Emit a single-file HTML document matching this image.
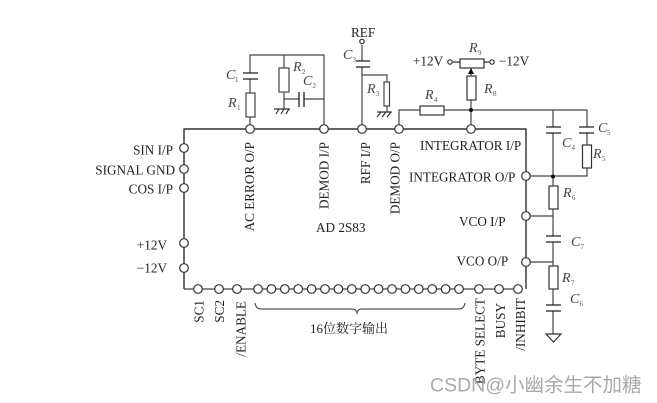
<!DOCTYPE html>
<html><head><meta charset="utf-8">
<style>
html,body{margin:0;padding:0;background:#fff;width:657px;height:403px;overflow:hidden}
svg{display:block}
text{font-family:"Liberation Serif","Noto Serif CJK SC",serif;font-size:13.2px;fill:#222}
.i{font-style:italic;font-size:14px;fill:#444}
.s{font-size:7px;fill:#555}
</style></head><body>
<svg width="657" height="403" viewBox="0 0 657 403" xmlns="http://www.w3.org/2000/svg">
<defs><filter id="b" x="0" y="0" width="100%" height="100%"><feGaussianBlur stdDeviation="0.3"/></filter></defs>
<g filter="url(#b)">
<g fill="none" stroke="#333" stroke-width="1.2">
<!-- chip outline -->
<path d="M184 289V129H526V289" stroke="#111"/>
<path d="M184 289H518" stroke="#444"/>
<!-- AC error network -->
<path d="M250 129V117M250 93V79M250 73V55H324V129M284 55V68M284 92V109M284 99H299M304 99H324" stroke="#444"/>
<path d="M243 73H258M243 79H258M299 92V107M304 92V107" stroke="#222" stroke-width="1.3"/>
<rect x="246" y="93" width="9" height="24" fill="#fff" stroke="#444"/>
<rect x="279" y="68" width="10" height="24" fill="#fff" stroke="#444"/>
<path d="M274 109H290M276 114L279 109M281 114L284 109M286 114L289 109"/>
<!-- REF -->
<path d="M362 45V61M362 67V129M362 75H387V82M387 106V112" stroke="#444"/>
<path d="M356 61H370M356 67H370" stroke="#222" stroke-width="1.3"/>
<rect x="384" y="82" width="5.500" height="24" fill="#fff" stroke="#444"/>
<path d="M377 112H392M377 117L381 112M382 117L386 112M387 117L391 112"/>
<!-- R4 etc -->
<path d="M399 129V110H587V127M471 129V100M471 76V69M553 110V127M553 133V186M553 209V236M553 242V266M553 289V305M553 311V334M587 133V145M587 168V176H526M526 216H553M526 262H553" stroke="#444"/>
<path d="M546 127H561M546 133H561M579 127H594M579 133H594M546 236H561M546 242H561M546 305H561M546 311H561" stroke="#222" stroke-width="1.3"/>
<rect x="420" y="106" width="24" height="9" fill="#fff"/>
<rect x="467" y="76" width="9" height="24" fill="#fff"/>
<rect x="582.500" y="145" width="9" height="23" fill="#fff"/>
<rect x="549" y="186" width="9" height="23" fill="#fff"/>
<rect x="549" y="266" width="9" height="23" fill="#fff"/>
<rect x="460" y="59" width="24" height="9" fill="#fff"/>
<path d="M453 62H460M484 62H489"/>
<path d="M546 334H561L553.500 342Z" fill="#fff"/>
<!-- brace -->
<path d="M255 303C256 308 258 309 262 309H352C355 309 356 310 357 313C358 310 359 309 362 309H458C462 309 464 308 465 303" stroke="#555"/>
</g>
<path d="M471 68L468 74H474Z" fill="#111"/>
<circle cx="471" cy="110" r="2" fill="#111"/>
<circle cx="553" cy="176.500" r="2" fill="#111"/>
<g fill="#fff" stroke="#333" stroke-width="1.2">
<circle cx="250" cy="129" r="4.300"/><circle cx="324" cy="129" r="4.300"/><circle cx="362" cy="129" r="4.300"/><circle cx="399" cy="129" r="4.300"/><circle cx="471" cy="129" r="4.300"/>
<circle cx="184" cy="148" r="4.300"/><circle cx="184" cy="169" r="4.300"/><circle cx="184" cy="188" r="4.300"/><circle cx="184" cy="243" r="4.300"/><circle cx="184" cy="268" r="4.300"/>
<circle cx="526" cy="176" r="4.300"/><circle cx="526" cy="216" r="4.300"/><circle cx="526" cy="262" r="4.300"/>
<circle cx="198" cy="289" r="4.300"/><circle cx="219" cy="289" r="4.300"/><circle cx="237" cy="289" r="4.300"/>
<circle cx="258" cy="289" r="4.300"/><circle cx="271.400" cy="289" r="4.300"/><circle cx="284.800" cy="289" r="4.300"/><circle cx="298.200" cy="289" r="4.300"/><circle cx="311.600" cy="289" r="4.300"/><circle cx="325" cy="289" r="4.300"/><circle cx="338.400" cy="289" r="4.300"/><circle cx="351.800" cy="289" r="4.300"/><circle cx="365.200" cy="289" r="4.300"/><circle cx="378.600" cy="289" r="4.300"/><circle cx="392" cy="289" r="4.300"/><circle cx="405.400" cy="289" r="4.300"/><circle cx="418.800" cy="289" r="4.300"/><circle cx="432.200" cy="289" r="4.300"/><circle cx="445.600" cy="289" r="4.300"/><circle cx="459" cy="289" r="4.300"/>
<circle cx="479" cy="289" r="4.300"/><circle cx="499" cy="289" r="4.300"/><circle cx="518" cy="289" r="4.300"/>
<circle cx="362" cy="41.500" r="2.200"/><circle cx="450" cy="62" r="2.200"/><circle cx="492" cy="62" r="2.200"/>
</g>
<!-- left labels -->
<text x="173" y="154.500" text-anchor="end">SIN I/P</text>
<text x="175" y="174.500" text-anchor="end">SIGNAL GND</text>
<text x="173" y="193.500" text-anchor="end">COS I/P</text>
<text x="167" y="249.500" text-anchor="end">+12V</text>
<text x="167" y="272.500" text-anchor="end">−12V</text>
<!-- rotated top labels -->
<text transform="translate(254 142) rotate(-90)" text-anchor="end">AC ERROR O/P</text>
<text transform="translate(328.500 142) rotate(-90)" text-anchor="end">DEMOD I/P</text>
<text transform="translate(370 142) rotate(-90)" text-anchor="end">RFF I/P</text>
<text transform="translate(399.500 142) rotate(-90)" text-anchor="end">DEMOD O/P</text>
<text x="420" y="150">INTEGRATOR I/P</text>
<text x="409" y="181.500">INTEGRATOR O/P</text>
<text x="459" y="226">VCO I/P</text>
<text x="456.500" y="265.500">VCO O/P</text>
<text x="316" y="232">AD 2S83</text>
<text x="310" y="333" style="font-size:13px">16位数字输出</text>
<!-- rotated bottom labels -->
<text transform="translate(203.500 300) rotate(-90)" text-anchor="end">SC1</text>
<text transform="translate(224 300) rotate(-90)" text-anchor="end">SC2</text>
<text transform="translate(245.500 301) rotate(-90)" text-anchor="end">/ENABLE</text>
<text transform="translate(484.500 298) rotate(-90)" text-anchor="end">BYTE SELECT</text>
<text transform="translate(505 303) rotate(-90)" text-anchor="end">BUSY</text>
<text transform="translate(525 298) rotate(-90)" text-anchor="end">/INHIBIT</text>
<!-- component labels -->
<text x="226" y="79" class="i">C</text><text x="235" y="82" class="s">1</text>
<text x="228" y="107" class="i">R</text><text x="237" y="110" class="s">1</text>
<text x="293" y="71" class="i">R</text><text x="302" y="74" class="s">2</text>
<text x="303" y="85" class="i">C</text><text x="312.500" y="88" class="s">2</text>
<text x="343" y="59" class="i">C</text><text x="352.500" y="62" class="s">3</text>
<text x="367" y="93" class="i">R</text><text x="376" y="96" class="s">3</text>
<text x="351" y="37">REF</text>
<text x="413" y="65.500">+12V</text>
<text x="499" y="65.500">−12V</text>
<text x="469" y="52" class="i">R</text><text x="478" y="55" class="s">9</text>
<text x="484" y="93" class="i">R</text><text x="493" y="96" class="s">8</text>
<text x="425" y="99" class="i">R</text><text x="434" y="102" class="s">4</text>
<text x="598" y="132" class="i">C</text><text x="607" y="135" class="s">5</text>
<text x="562" y="147" class="i">C</text><text x="571.500" y="150" class="s">4</text>
<text x="593" y="158" class="i">R</text><text x="602" y="161" class="s">5</text>
<text x="563" y="197" class="i">R</text><text x="572" y="200" class="s">6</text>
<text x="571" y="246" class="i">C</text><text x="580.500" y="249" class="s">7</text>
<text x="562" y="282" class="i">R</text><text x="571" y="285" class="s">7</text>
<text x="570" y="303" class="i">C</text><text x="579.500" y="306" class="s">6</text>
</g>
<text x="430" y="391.500" style="font-family:'Liberation Sans','Noto Sans CJK SC',sans-serif;font-size:19.500px;fill:#9a9a9a;fill-opacity:.85">CSDN@小幽余生不加糖</text>
</svg>
</body></html>
